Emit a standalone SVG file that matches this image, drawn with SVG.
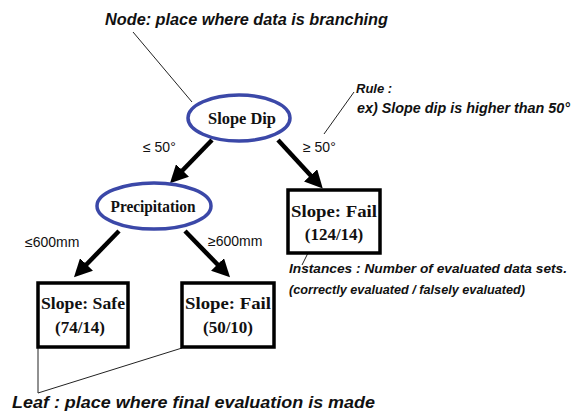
<svg xmlns="http://www.w3.org/2000/svg" width="578" height="414" viewBox="0 0 578 414">
<style>
.ell{fill:#fff;stroke:#3b48a8;stroke-width:3.5}
.box{fill:#fff;stroke:#000;stroke-width:3.5}
.nt{font-family:"Liberation Serif",serif;font-weight:bold;font-size:16px;text-anchor:middle;fill:#111}
.bt{font-size:17px}
.note{font-family:"Liberation Sans",Arial,sans-serif;font-style:italic;font-weight:bold;fill:#111}
.lab{font-family:"Liberation Sans",Arial,sans-serif;font-size:14px;fill:#111}
.arr{stroke:#000;stroke-width:4.5;fill:none;marker-end:url(#ah)}
.thin{stroke:#222;stroke-width:1;fill:none}
</style>
<defs>
<marker id="ah" viewBox="0 0 10 10" refX="2" refY="5" markerWidth="4" markerHeight="4" orient="auto" markerUnits="strokeWidth">
<path d="M0,0 L10,5 L0,10 z" fill="#000"/>
</marker>
</defs>
<g id="connectors">
<line class="arr" x1="212" y1="140" x2="180" y2="173"/>
<line class="arr" x1="278" y1="140" x2="313" y2="178"/>
<line class="arr" x1="119" y1="231" x2="84" y2="267"/>
<line class="arr" x1="185" y1="231" x2="220" y2="267"/>
<line class="thin" x1="133" y1="32" x2="192" y2="102"/>
<line class="thin" x1="324" y1="134" x2="354" y2="92"/>
<line class="thin" x1="302" y1="265" x2="312" y2="245"/>
<polyline class="thin" points="38,347 38,393 182,348"/>
</g>
<g id="labels">
<text class="note" x="105" y="25" font-size="16" textLength="283" lengthAdjust="spacingAndGlyphs">Node: place where data is branching</text>
<text class="note" x="356" y="93" font-size="13">Rule :</text>
<text class="note" x="357" y="113" font-size="14" textLength="213" lengthAdjust="spacingAndGlyphs">ex) Slope dip is higher than 50°</text>
<text class="lab" x="143" y="152">≤ 50°</text>
<text class="lab" x="303" y="152">≥ 50°</text>
<text class="lab" x="25" y="247">≤600mm</text>
<text class="lab" x="208" y="246">≥600mm</text>
<text class="note" x="289" y="273" font-size="13" textLength="278" lengthAdjust="spacingAndGlyphs">Instances : Number of evaluated data sets.</text>
<text class="note" x="289" y="294" font-size="13" textLength="236" lengthAdjust="spacingAndGlyphs">(correctly evaluated / falsely evaluated)</text>
<text class="note" x="12" y="408" font-size="16" textLength="363" lengthAdjust="spacingAndGlyphs">Leaf : place where final evaluation is made</text>
</g>
<g id="node-slope-dip">
<ellipse class="ell" cx="239" cy="118" rx="51" ry="23"/>
<text class="nt" x="242" y="124" textLength="68" lengthAdjust="spacingAndGlyphs">Slope Dip</text>
</g>
<g id="node-precipitation">
<ellipse class="ell" cx="154" cy="206" rx="57" ry="23"/>
<text class="nt" x="153" y="212" textLength="85" lengthAdjust="spacingAndGlyphs">Precipitation</text>
</g>
<g id="leaf-fail-1">
<rect class="box" x="288" y="190" width="92" height="63"/>
<text class="nt bt" x="334" y="217" textLength="86" lengthAdjust="spacingAndGlyphs">Slope: Fail</text>
<text class="nt bt" x="334" y="240">(124/14)</text>
</g>
<g id="leaf-safe">
<rect class="box" x="38" y="283" width="90" height="64"/>
<text class="nt bt" x="83" y="309" textLength="84" lengthAdjust="spacingAndGlyphs">Slope: Safe</text>
<text class="nt bt" x="80" y="333">(74/14)</text>
</g>
<g id="leaf-fail-2">
<rect class="box" x="182" y="283" width="92" height="64"/>
<text class="nt bt" x="228" y="309" textLength="86" lengthAdjust="spacingAndGlyphs">Slope: Fail</text>
<text class="nt bt" x="228" y="333">(50/10)</text>
</g>
</svg>
